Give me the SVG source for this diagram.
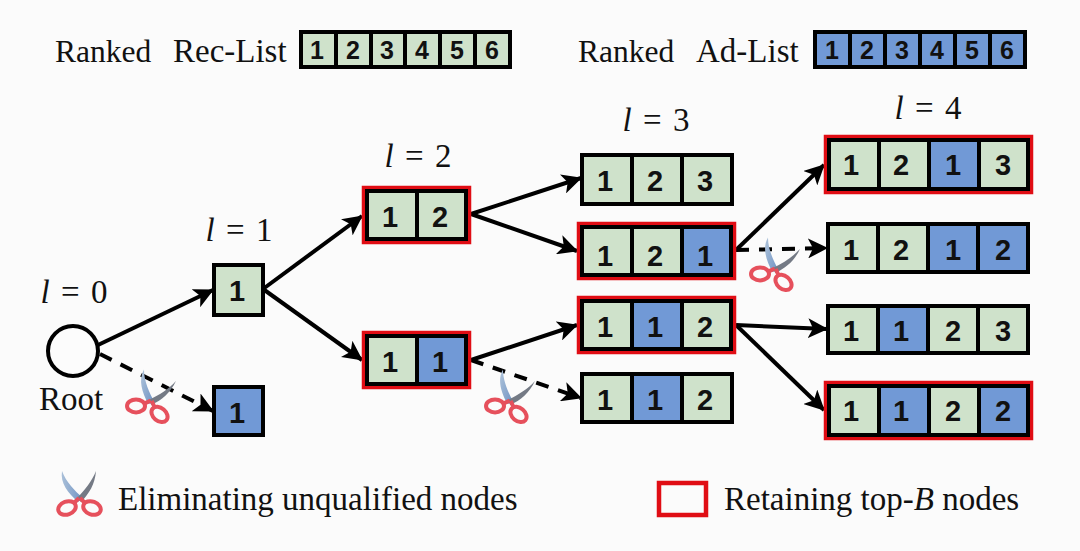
<svg xmlns="http://www.w3.org/2000/svg" xmlns:xlink="http://www.w3.org/1999/xlink" width="1080" height="551" viewBox="0 0 1080 551">
<style>
.g{fill:#cfe2cb;stroke:#000;stroke-width:4}
.b{fill:#7199d6;stroke:#000;stroke-width:4}
.r{fill:none;stroke:#e00d14;stroke-width:4.5}
.n{font-family:"Liberation Sans",Arial,sans-serif;font-weight:bold;font-size:29px;text-anchor:middle;fill:#111}
.h{font-size:25px}
.t{font-family:"Liberation Serif","Times New Roman",serif;font-size:33px;fill:#111}
.k{font-size:31.5px}
.m{font-family:"Liberation Serif","Times New Roman",serif;font-size:33px;fill:#111;text-anchor:middle;word-spacing:3px}
.c{stroke:#000;stroke-width:4;fill:none}
.d{stroke-dasharray:13 10}
</style>
<defs>
<marker id="a" viewBox="0 0 10 10" refX="9.5" refY="5" markerUnits="userSpaceOnUse" markerWidth="20" markerHeight="20" orient="auto"><path d="M0 0L10 5L0 10L2.5 5Z" fill="#000"/></marker>
<linearGradient id="bl" x1="0" x2="1" y1="0" y2="0"><stop offset="0" stop-color="#a9bfd8"/><stop offset="1" stop-color="#6f93c4"/></linearGradient>
<g id="sc">
<path d="M-18 -26C-14 -15 -5 -6 3 1L-2 5C-12 -4 -20 -14 -18 -26Z" fill="url(#bl)"/>
<path d="M16 -26C12 -16 5 -7 -3 1L1 5C9 -3 15 -13 16 -26Z" fill="#747a85"/>
<g fill="none" stroke="#e6505c" stroke-width="4">
<path d="M-1 1L-7 7"/><path d="M0 1L6 7"/>
<ellipse cx="-13" cy="11" rx="9" ry="6.5" transform="rotate(-20 -13 11)"/>
<ellipse cx="12" cy="11" rx="9" ry="6.5" transform="rotate(20 12 11)"/>
</g>
</g>
</defs>
<rect width="1080" height="551" fill="#fbfbfb"/>

<g id="legend-rec">
<text class="t k" x="55" y="62">Ranked<tspan class="t" x="173">Rec-List</tspan></text>
<rect class="g" x="301" y="32" width="35" height="35"/><rect class="g" x="336" y="32" width="35" height="35"/><rect class="g" x="371" y="32" width="34" height="35"/><rect class="g" x="405" y="32" width="35" height="35"/><rect class="g" x="440" y="32" width="35" height="35"/><rect class="g" x="475" y="32" width="35" height="35"/>
<text class="n h" x="317" y="59">1</text><text class="n h" x="353" y="59">2</text><text class="n h" x="387" y="59">3</text><text class="n h" x="422" y="59">4</text><text class="n h" x="457" y="59">5</text><text class="n h" x="492" y="59">6</text>
</g>
<g id="legend-ad">
<text class="t k" x="578" y="62">Ranked<tspan class="t" x="696">Ad-List</tspan></text>
<rect class="b" x="815" y="32" width="35" height="35"/><rect class="b" x="850" y="32" width="35" height="35"/><rect class="b" x="885" y="32" width="35" height="35"/><rect class="b" x="920" y="32" width="35" height="35"/><rect class="b" x="955" y="32" width="35" height="35"/><rect class="b" x="990" y="32" width="35" height="35"/>
<text class="n h" x="832" y="59">1</text><text class="n h" x="867" y="59">2</text><text class="n h" x="902" y="59">3</text><text class="n h" x="937" y="59">4</text><text class="n h" x="972" y="59">5</text><text class="n h" x="1007" y="59">6</text>
</g>

<g id="level-labels">
<text class="m" x="74" y="303"><tspan font-style="italic">l</tspan> = 0</text>
<text class="m" x="239" y="241"><tspan font-style="italic">l</tspan> = 1</text>
<text class="m" x="418" y="167"><tspan font-style="italic">l</tspan> = 2</text>
<text class="m" x="656" y="131"><tspan font-style="italic">l</tspan> = 3</text>
<text class="m" x="928" y="119"><tspan font-style="italic">l</tspan> = 4</text>
</g>

<g id="connectors">
<path class="c" d="M98 345L213 290" marker-end="url(#a)"/>
<path class="c d" d="M100 354L213 411" marker-end="url(#a)"/>
<path class="c" d="M263 289L362 216" marker-end="url(#a)"/>
<path class="c" d="M263 289L362 360" marker-end="url(#a)"/>
<path class="c" d="M471 214L581 178" marker-end="url(#a)"/>
<path class="c" d="M471 214L577 251" marker-end="url(#a)"/>
<path class="c" d="M471 360L577 325" marker-end="url(#a)"/>
<path class="c d" d="M471 360L581 398" marker-end="url(#a)"/>
<path class="c" d="M736 250L824 165" marker-end="url(#a)"/>
<path class="c d" d="M736 250L827 248" marker-end="url(#a)"/>
<path class="c" d="M736 325L827 329" marker-end="url(#a)"/>
<path class="c" d="M736 325L824 410" marker-end="url(#a)"/>
</g>

<g id="root"><circle cx="73" cy="351" r="25" fill="#fcfcfc" stroke="#000" stroke-width="4"/><text class="t" x="39" y="410">Root</text></g>

<g id="n1"><rect class="g" x="214" y="265" width="49" height="50"/><text class="n" x="237" y="301">1</text></g>
<g id="n1b"><rect class="b" x="214" y="387" width="49" height="48"/><text class="n" x="237" y="423">1</text></g>

<g id="n12"><rect class="r" x="364" y="188" width="105" height="54"/><rect class="g" x="367" y="191" width="50" height="48"/><rect class="g" x="417" y="191" width="49" height="48"/><text class="n" x="390" y="227">1</text><text class="n" x="440" y="227">2</text></g>
<g id="n11"><rect class="r" x="364" y="333" width="105" height="54"/><rect class="g" x="367" y="336" width="50" height="48"/><rect class="b" x="417" y="336" width="49" height="48"/><text class="n" x="390" y="372">1</text><text class="n" x="440" y="372">1</text></g>

<g id="n123"><rect class="g" x="582" y="155" width="50" height="49"/><rect class="g" x="632" y="155" width="50" height="49"/><rect class="g" x="682" y="155" width="50" height="49"/><text class="n" x="605" y="191">1</text><text class="n" x="655" y="191">2</text><text class="n" x="705" y="191">3</text></g>
<g id="n121"><rect class="r" x="579" y="224" width="155" height="54"/><rect class="g" x="582" y="227" width="50" height="48"/><rect class="g" x="632" y="227" width="50" height="48"/><rect class="b" x="682" y="227" width="49" height="48"/><text class="n" x="605" y="266">1</text><text class="n" x="655" y="266">2</text><text class="n" x="705" y="266">1</text></g>
<g id="n112"><rect class="r" x="579" y="298" width="155" height="54"/><rect class="g" x="582" y="301" width="50" height="48"/><rect class="b" x="632" y="301" width="50" height="48"/><rect class="g" x="682" y="301" width="49" height="48"/><text class="n" x="605" y="337">1</text><text class="n" x="655" y="337">1</text><text class="n" x="705" y="337">2</text></g>
<g id="n112b"><rect class="g" x="582" y="374" width="50" height="48"/><rect class="b" x="632" y="374" width="50" height="48"/><rect class="g" x="682" y="374" width="50" height="48"/><text class="n" x="605" y="410">1</text><text class="n" x="655" y="410">1</text><text class="n" x="705" y="410">2</text></g>

<g id="n1213"><rect class="r" x="826" y="137" width="205" height="55"/><rect class="g" x="829" y="140" width="50" height="49"/><rect class="g" x="879" y="140" width="50" height="49"/><rect class="b" x="929" y="140" width="50" height="49"/><rect class="g" x="979" y="140" width="49" height="49"/><text class="n" x="851" y="175">1</text><text class="n" x="901" y="175">2</text><text class="n" x="953" y="175">1</text><text class="n" x="1003" y="175">3</text></g>
<g id="n1212"><rect class="g" x="828" y="224" width="50" height="48"/><rect class="g" x="878" y="224" width="50" height="48"/><rect class="b" x="928" y="224" width="50" height="48"/><rect class="b" x="978" y="224" width="50" height="48"/><text class="n" x="851" y="260">1</text><text class="n" x="901" y="260">2</text><text class="n" x="953" y="260">1</text><text class="n" x="1003" y="260">2</text></g>
<g id="n1123"><rect class="g" x="828" y="306" width="50" height="47"/><rect class="b" x="878" y="306" width="50" height="47"/><rect class="g" x="928" y="306" width="50" height="47"/><rect class="g" x="978" y="306" width="50" height="47"/><text class="n" x="851" y="341">1</text><text class="n" x="901" y="341">1</text><text class="n" x="953" y="341">2</text><text class="n" x="1003" y="341">3</text></g>
<g id="n1122"><rect class="r" x="826" y="383" width="205" height="55"/><rect class="g" x="829" y="386" width="50" height="49"/><rect class="b" x="879" y="386" width="50" height="49"/><rect class="g" x="929" y="386" width="50" height="49"/><rect class="b" x="979" y="386" width="49" height="49"/><text class="n" x="851" y="421">1</text><text class="n" x="901" y="421">1</text><text class="n" x="953" y="421">2</text><text class="n" x="1003" y="421">2</text></g>

<g id="scissors">
<use xlink:href="#sc" href="#sc" transform="translate(152 400) rotate(20)"/>
<use xlink:href="#sc" href="#sc" transform="translate(511 400) rotate(20)"/>
<use xlink:href="#sc" href="#sc" transform="translate(776 268) rotate(20)"/>
<use xlink:href="#sc" href="#sc" transform="translate(80 497)"/>
</g>

<g id="legend-bottom">
<text class="t" x="118" y="510">Eliminating unqualified nodes</text>
<rect class="r" x="659" y="483" width="47" height="32"/>
<text class="t" x="724" y="510">Retaining top-<tspan font-style="italic">B</tspan> nodes</text>
</g>
</svg>
